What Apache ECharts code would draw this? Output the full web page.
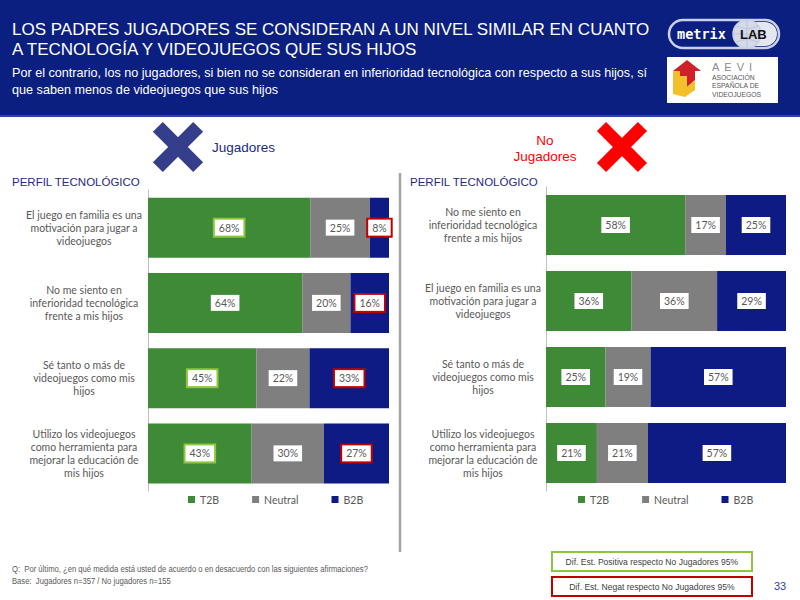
<!DOCTYPE html>
<html>
<head>
<meta charset="utf-8">
<script src="https://cdn.jsdelivr.net/npm/echarts@6/dist/echarts.min.js"></script>
<style>
  body { margin: 0; width: 800px; height: 600px; position: relative; overflow: hidden; background: #fff; font-family: "Liberation Sans", Arial, sans-serif; }
  #chart { position: absolute; left: 0; top: 0; width: 800px; height: 600px; }
  .abs { position: absolute; white-space: nowrap; }
  #head { position: absolute; left: 0; top: 0; width: 800px; height: 115px; background: #0b1f80; border-bottom: 2px solid #31449c; }
  .title { left: 12px; top: 20px; color: #fff; font-size: 17px; line-height: 20px; }
  .sub { left: 12px; top: 64px; color: #fff; font-size: 13.5px; line-height: 17px; transform: scaleX(0.935); transform-origin: left top; }
  .perfil { color: #1f2a80; font-size: 11.5px; top: 176px; }
  .foot { left: 12px; color: #595959; font-size: 8.5px; transform: scaleX(0.9); transform-origin: left top; }
  .box { left: 551px; width: 198px; height: 17px; background: #fff; text-align: center; font-size: 9.5px; line-height: 17px; color: #404040; }
  .box span { display: inline-block; transform: scaleX(0.9); }
</style>
</head>
<body>
<div id="chart"></div>
<div id="head"></div>
<div class="abs title">LOS PADRES JUGADORES SE CONSIDERAN A UN NIVEL SIMILAR EN CUANTO<br>A TECNOLOGÍA Y VIDEOJUEGOS QUE SUS HIJOS</div>
<div class="abs sub">Por el contrario, los no jugadores, si bien no se consideran en inferioridad tecnológica con respecto a sus hijos, sí<br>que saben menos de videojuegos que sus hijos</div>

<svg class="abs" style="left:666px;top:14px" width="116" height="92">
  <rect x="3" y="6" width="110" height="28" rx="14" fill="#0b1f80" stroke="#c9d1ea" stroke-width="2.5"/>
  <rect x="70" y="8" width="41" height="24" rx="12" fill="#e4e7f0"/>
  <circle cx="81" cy="20" r="14" fill="#d5dae8" stroke="#c9d1ea" stroke-width="1.5"/>
  <path d="M67,20 H95 M81,6 V34 M70,12 Q81,17 92,12 M70,28 Q81,23 92,28" stroke="#b8c0d6" stroke-width="0.8" fill="none"/>
  <text x="11" y="25" fill="#fff" font-family="DejaVu Sans Mono" font-weight="bold" font-size="13.5">metrix</text>
  <text x="74" y="25" fill="#111" font-family="Liberation Sans" font-weight="bold" font-size="13">LAB</text>
  <rect x="1" y="43" width="111" height="46" fill="#fff"/>
  <polygon points="7,57 21,46 35,57 29,57 29,66 21,73 21,62 14,62 14,57" fill="#d0202a"/>
  <polygon points="7,57 14,57 14,62 21,62 21,73 29,66 29,76 19,83 7,80" fill="#f2c12a"/>
  <text x="46" y="57" fill="#8a8a8a" font-size="11" letter-spacing="5" font-family="Liberation Sans">AEVI</text>
  <text x="46" y="66" fill="#555" font-size="6.8" font-family="Liberation Sans">ASOCIACIÓN</text>
  <text x="46" y="74" fill="#555" font-size="6.8" font-family="Liberation Sans">ESPAÑOLA DE</text>
  <text x="46" y="83" fill="#555" font-size="6.8" font-family="Liberation Sans">VIDEOJUEGOS</text>
</svg>

<div class="abs" style="left:212px;top:140px;color:#1a2a8a;font-size:13.5px">Jugadores</div>
<div class="abs" style="left:505px;top:133px;width:80px;text-align:center;color:#ff0000;font-size:13.5px;line-height:16px">No<br>Jugadores</div>
<div class="abs perfil" style="left:12px">PERFIL TECNOLÓGICO</div>
<div class="abs perfil" style="left:410px">PERFIL TECNOLÓGICO</div>

<div class="abs foot" style="top:564px">Q:&nbsp; Por último, ¿en qué medida está usted de acuerdo o en desacuerdo con las siguientes afirmaciones?</div>
<div class="abs foot" style="top:576px">Base:&nbsp; Jugadores n=357 / No jugadores n=155</div>
<div class="abs box" style="top:551px;border:2px solid #8dc63f"><span>Dif. Est. Positiva respecto No Jugadores 95%</span></div>
<div class="abs box" style="top:576px;border:2px solid #c00000"><span>Dif. Est. Negat respecto No Jugadores 95%</span></div>
<div class="abs" style="left:774px;top:580px;color:#2e3f9a;font-size:11px">33</div>

<script>
const seriesNames = ["T2B", "Neutral", "B2B"]

const categoriesLeft = [
  "El juego en familia es una\nmotivación para jugar a\nvideojuegos",
  "No me siento en\ninferioridad tecnológica\nfrente a mis hijos",
  "Sé tanto o más de\nvideojuegos como mis\nhijos",
  "Utilizo los videojuegos\ncomo herramienta para\nmejorar la educación de\nmis hijos"
]
const t2bLeft = [68, 64, 45, 43]
const neutralLeft = [25, 20, 22, 30]
const b2bLeft = [8, 16, 33, 27]
// significance vs No Jugadores (green = positive, red = negative)
const t2bSigLeft = [true, false, true, true]
const b2bSigLeft = [true, true, true, true]

const categoriesRight = [
  "No me siento en\ninferioridad tecnológica\nfrente a mis hijos",
  "El juego en familia es una\nmotivación para jugar a\nvideojuegos",
  "Sé tanto o más de\nvideojuegos como mis\nhijos",
  "Utilizo los videojuegos\ncomo herramienta para\nmejorar la educación de\nmis hijos"
]
const t2bRight = [58, 36, 25, 21]
const neutralRight = [17, 36, 19, 21]
const b2bRight = [25, 29, 57, 57]

const colors = ["#3e8a37", "#7f7f7f", "#0f1b85"]

const chart = echarts.init(document.getElementById("chart"), null, { renderer: "svg" })

// rows are rounded so they don't always add to 100; draw as share of row total
const makeData = (vals, rows, sig, sigColor) => vals.map((v, i) => {
  const total = rows.reduce((s, r) => s + r[i], 0)
  const item = { value: v / total * 100, shown: v }
  if (sig && sig[i]) item.label = { borderColor: sigColor, borderWidth: 2 }
  return item
})

const makeSeries = (rows, sigs, idx, stack) => rows.map((vals, k) => ({
  name: seriesNames[k],
  type: "bar",
  stack: stack,
  xAxisIndex: idx,
  yAxisIndex: idx,
  barWidth: 60,
  itemStyle: { color: colors[k] },
  label: {
    show: true,
    position: "inside",
    formatter: (p) => p.data.shown + "%",
    backgroundColor: "#fff",
    padding: [3, 4, 2, 4],
    color: "#595959",
    fontSize: 10.5,
    fontFamily: "Lato"
  },
  data: makeData(vals, rows, sigs[k], k === 0 ? "#8dc63f" : "#c00000")
}))

const rowsLeft = [t2bLeft, neutralLeft, b2bLeft]
const rowsRight = [t2bRight, neutralRight, b2bRight]

const yAxis = (cats, margin) => ({
  type: "category",
  data: cats,
  inverse: true,
  axisLine: { show: true, lineStyle: { color: "#bfbfbf" } },
  axisTick: { show: false },
  axisLabel: {
    margin: margin,
    align: "center",
    color: "#595959",
    fontSize: 10.5,
    lineHeight: 13,
    fontFamily: "Lato"
  }
})

const xAxis = (gi) => ({ type: "value", gridIndex: gi, min: 0, max: 100, show: false })

const xMark = (cx, cy, len, thick, color) => ({
  type: "group",
  x: cx,
  y: cy,
  children: [45, -45].map(a => ({
    type: "rect",
    rotation: a * Math.PI / 180,
    shape: { x: -len / 2, y: -thick / 2, width: len, height: thick },
    style: { fill: color }
  }))
})

chart.setOption({
  animation: false,
  grid: [
    { left: 148, width: 241, top: 190, height: 301 },
    { left: 546, width: 240, top: 187, height: 304 }
  ],
  xAxis: [xAxis(0), xAxis(1)],
  yAxis: [
    Object.assign(yAxis(categoriesLeft, 64), { gridIndex: 0 }),
    Object.assign(yAxis(categoriesRight, 63), { gridIndex: 1 })
  ],
  legend: [
    { left: 183, top: 489, itemWidth: 7, itemHeight: 7, itemGap: 33, icon: "rect",
      textStyle: { color: "#595959", fontSize: 10.5, fontFamily: "Lato" }, data: seriesNames },
    { left: 573, top: 489, itemWidth: 7, itemHeight: 7, itemGap: 33, icon: "rect",
      textStyle: { color: "#595959", fontSize: 10.5, fontFamily: "Lato" }, data: seriesNames }
  ],
  graphic: [
    xMark(178, 147, 57, 14, "#353e8b"),
    xMark(622, 147, 58, 13, "#ff0000"),
    { type: "line", shape: { x1: 400, y1: 173, x2: 400, y2: 552 }, style: { stroke: "#a6a6a6", lineWidth: 2.5 } }
  ],
  series: [
    ...makeSeries(rowsLeft, [t2bSigLeft, null, b2bSigLeft], 0, "L"),
    ...makeSeries(rowsRight, [null, null, null], 1, "R")
  ]
})
</script>
</body>
</html>
